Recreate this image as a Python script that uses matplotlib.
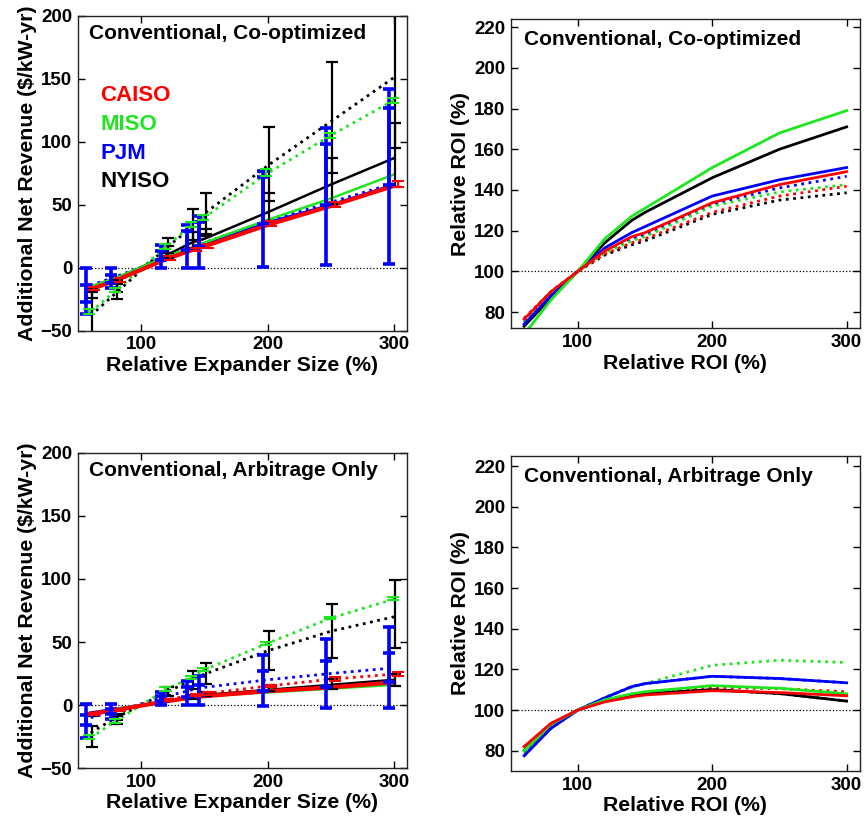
import matplotlib
matplotlib.use('Agg')
import matplotlib.pyplot as plt
import numpy as np

plt.rcParams['font.family'] = ['Liberation Sans', 'DejaVu Sans']
plt.rcParams['font.weight'] = 'bold'
plt.rcParams['axes.labelweight'] = 'bold'

isos = ['NYISO', 'PJM', 'MISO', 'CAISO']
colors = {'CAISO': '#ff0000', 'MISO': '#1ee61e', 'PJM': '#0000ff', 'NYISO': '#000000'}

# expander sizes (%) where net revenue was evaluated
sizes = [60, 80, 120, 140, 150, 200, 250, 300]
# expander sizes (%) for the relative ROI curves
roi_sizes = [60, 80, 100, 120, 140, 150, 200, 250, 300]

# --- co-optimized, additional net revenue ($/kW-yr) ---
co_rev_solid = {
    'CAISO': [-17, -10, 7, 14, 17, 34, 49, 65],
    'MISO': [-15, -8, 9, 16, 20, 38, 55, 74],
    'PJM': [-15, -8, 8, 15, 19, 36, 50, 66],
    'NYISO': [-16, -9, 10, 20, 23, 44, 66, 87],
}
co_rev_dotted = {
    'CAISO': [-16, -9, 7, 14, 17, 34, 49, 66],
    'MISO': [-35, -18, 17, 34, 40, 75, 105, 133],
    'PJM': [-14, -7, 8, 16, 20, 37, 52, 67],
    'NYISO': [-38, -20, 16, 32, 43, 81, 116, 151],
}
co_bar_lo = {
    'CAISO': [-18, -11, 6, 13, 16, 33, 48, 64],
    'MISO': [-37, -19, 15, 32, 38, 73, 103, 131],
    'PJM': [-37, -16, 0, 0, 0, 1, 2, 3],
    'NYISO': [-60, -25, 8, 16, 25, 37, 51, 64],
}
co_bar_hi = {
    'CAISO': [-15, -8, 9, 16, 19, 37, 52, 69],
    'MISO': [-33, -16, 19, 36, 42, 78, 107, 135],
    'PJM': [0, 0, 18, 34, 41, 77, 111, 142],
    'NYISO': [-17, -10, 24, 47, 59, 112, 163, 240],
}
co_inner_lo = {
    'PJM': [-27, -12, 6, 14, 17, 35, 50, 66],
    'NYISO': [-24, -19, 12, 22, 27, 53, 75, 95],
}
co_inner_hi = {
    'PJM': [-14, -6, 13, 29, 36, 72, 98, 127],
    'NYISO': [-19, -13, 17, 28, 31, 59, 87, 115],
}

# --- arbitrage only, additional net revenue ($/kW-yr) ---
arb_rev_solid = {
    'CAISO': [-7, -4, 3, 6, 7, 11, 14, 18],
    'MISO': [-7, -3, 3, 5, 7, 10, 13, 16],
    'PJM': [-6, -3, 3, 6, 7, 11, 14, 17],
    'NYISO': [-8, -4, 3, 6, 8, 12, 16, 20],
}
arb_rev_dotted = {
    'CAISO': [-7, -4, 4, 8, 9, 15, 20.5, 24.5],
    'MISO': [-26, -12.5, 12.5, 22, 28, 49, 69, 84],
    'PJM': [-10, -5, 7, 12, 14, 20, 25, 29.5],
    'NYISO': [-22, -10, 10, 20, 24.5, 43, 58.5, 70],
}
arb_bar_lo = {
    'CAISO': [-8, -5, 3, 7, 8, 14, 19, 23],
    'MISO': [-27, -14, 11, 21, 27, 48, 68, 83],
    'PJM': [-26, -11, 0, 0, 0, -1, -2, -2],
    'NYISO': [-33, -15, 7, 13, 17, 28, 37, 45],
}
arb_bar_hi = {
    'CAISO': [-6, -3, 5, 9, 10, 16, 22, 26],
    'MISO': [-24, -11, 14, 23, 29, 50, 70, 86],
    'PJM': [1, 1, 10, 19, 23, 40, 52, 62],
    'NYISO': [-17, -7, 14, 27, 33, 59, 80, 99],
}
arb_inner_lo = {
    'PJM': [-16, -7, 3, 6, 8, 11, 14, 18],
    'NYISO': [-9, -12, 3, 5, 7, 11, 13, 15],
}
arb_inner_hi = {
    'PJM': [-8, -3, 7, 14, 16, 27, 35, 41],
    'NYISO': [-6, -9, 5, 8, 10, 16, 21, 25],
}

# --- relative ROI (%) ---
co_roi_solid = {
    'CAISO': [76.5, 90, 100, 110, 117, 119, 133.7, 142.6, 149],
    'MISO': [69, 86, 100, 116, 127, 131, 151, 168, 179],
    'PJM': [74, 88, 100, 111.5, 119, 122, 137, 145, 151],
    'NYISO': [73, 87, 100, 114, 125, 129, 146, 160, 171],
}
co_roi_dotted = {
    'CAISO': [77, 90, 100, 108.5, 114, 116, 129, 137, 141.8],
    'MISO': [75, 89, 100, 109, 115, 117, 132, 139, 142.6],
    'PJM': [75, 89, 100, 110, 116, 118, 133, 141, 146.7],
    'NYISO': [76, 90, 100, 108, 113, 115, 128, 135, 138.6],
}
arb_roi_solid = {
    'CAISO': [82, 93.5, 100, 104, 106.5, 107.4, 109.5, 108.6, 107],
    'MISO': [80, 93, 100, 105, 108, 109, 112, 110.7, 108],
    'PJM': [77.5, 91, 100, 106, 111.5, 113, 116.6, 115.5, 113.4],
    'NYISO': [80, 93, 100, 104.5, 107, 108, 110, 108.1, 104.4],
}
arb_roi_dotted = {
    'CAISO': [82, 93, 100, 104.5, 107, 108, 111, 110.5, 109],
    'MISO': [79, 91, 100, 106, 111, 113, 122, 124.5, 123.4],
    'PJM': [77.5, 91, 100, 106, 111.5, 113, 116.6, 115.5, 113.4],
    'NYISO': [80, 93, 100, 104.5, 107, 108, 110, 108.1, 104.4],
}

# small horizontal shifts so the error bars of different ISOs don't overlap
bar_shift = {'CAISO': 3, 'MISO': -1, 'PJM': -4, 'NYISO': 1}
bar_width = {'CAISO': 1.5, 'MISO': 1.5, 'PJM': 2.6, 'NYISO': 1.6}

fig = plt.figure(figsize=(8.67, 8.27), dpi=100)
ax_tl = fig.add_axes([0.090, 0.600, 0.379, 0.381])
ax_tr = fig.add_axes([0.589, 0.603, 0.403, 0.374])
ax_bl = fig.add_axes([0.090, 0.0713, 0.379, 0.381])
ax_br = fig.add_axes([0.589, 0.0677, 0.403, 0.381])


def style_axes(ax):
    ax.tick_params(direction='in', top=True, right=True, length=5, width=1,
                   labelsize=13.5, pad=4)
    for lab in ax.get_xticklabels() + ax.get_yticklabels():
        lab.set_fontweight('bold')
    for sp in ax.spines.values():
        sp.set_color('#222222')
        sp.set_linewidth(1)


def draw_revenue(ax, solid, dotted, lo, hi, inner_lo, inner_hi, title):
    x = np.array(sizes, dtype=float)
    ax.axhline(0, color='k', ls=':', lw=0.9)
    for iso in isos:
        ax.plot(x, dotted[iso], ls=':', color=colors[iso], lw=2)
    for iso in isos:
        lw = 3 if iso == 'CAISO' else 1.8
        ax.plot(x, solid[iso], '-', color=colors[iso], lw=lw)
    for iso in isos:
        xb = x + bar_shift[iso]
        lo_v = np.array(lo[iso], dtype=float)
        hi_v = np.array(hi[iso], dtype=float)
        ax.errorbar(xb, lo_v, yerr=[np.zeros_like(lo_v), hi_v - lo_v], fmt='none',
                    ecolor=colors[iso], elinewidth=bar_width[iso], capsize=4,
                    capthick=bar_width[iso])
        if iso in inner_lo:
            ilo = np.array(inner_lo[iso], dtype=float)
            ihi = np.array(inner_hi[iso], dtype=float)
            ax.errorbar(xb, ilo, yerr=[np.zeros_like(ilo), ihi - ilo], fmt='none',
                        ecolor=colors[iso], elinewidth=bar_width[iso], capsize=4,
                        capthick=bar_width[iso])
    ax.set_xlim(50, 310)
    ax.set_ylim(-50, 200)
    ax.set_xticks([100, 200, 300])
    ax.set_yticks([-50, 0, 50, 100, 150, 200])
    ax.set_xlabel('Relative Expander Size (%)', fontsize=15.3, fontweight='bold', labelpad=2)
    ax.set_ylabel('Additional Net Revenue (\\$/kW-yr)', fontsize=15.3, fontweight='bold',
                  labelpad=3)
    ax.text(0.033, 0.945, title, transform=ax.transAxes, fontsize=15, fontweight='bold',
            va='center', ha='left')
    style_axes(ax)


def draw_roi(ax, solid, dotted, title, ylim):
    x = np.array(roi_sizes, dtype=float)
    ax.axhline(100, color='k', ls=':', lw=0.9)
    for iso in isos:
        ax.plot(x, dotted[iso], ls=':', color=colors[iso], lw=2)
    for iso in isos:
        ax.plot(x, solid[iso], '-', color=colors[iso], lw=2)
    ax.set_xlim(50, 310)
    ax.set_ylim(*ylim)
    ax.set_xticks([100, 200, 300])
    ax.set_yticks(np.arange(80, 221, 20))
    ax.set_xlabel('Relative ROI (%)', fontsize=15.3, fontweight='bold', labelpad=2)
    ax.set_ylabel('Relative ROI (%)', fontsize=15.3, fontweight='bold', labelpad=3)
    ax.text(0.037, 0.935, title, transform=ax.transAxes, fontsize=15, fontweight='bold',
            va='center', ha='left')
    style_axes(ax)


draw_revenue(ax_tl, co_rev_solid, co_rev_dotted, co_bar_lo, co_bar_hi,
             co_inner_lo, co_inner_hi, 'Conventional, Co-optimized')
draw_revenue(ax_bl, arb_rev_solid, arb_rev_dotted, arb_bar_lo, arb_bar_hi,
             arb_inner_lo, arb_inner_hi, 'Conventional, Arbitrage Only')
draw_roi(ax_tr, co_roi_solid, co_roi_dotted, 'Conventional, Co-optimized', (72, 224))
draw_roi(ax_br, arb_roi_solid, arb_roi_dotted, 'Conventional, Arbitrage Only', (70, 225))

# ISO names as a coloured text legend
for i, iso in enumerate(['CAISO', 'MISO', 'PJM', 'NYISO']):
    ax_tl.text(0.067, 0.746 - 0.091 * i, iso, transform=ax_tl.transAxes, color=colors[iso],
               fontsize=16, fontweight='bold', va='center', ha='left')

fig.savefig('out.png', dpi=100)
